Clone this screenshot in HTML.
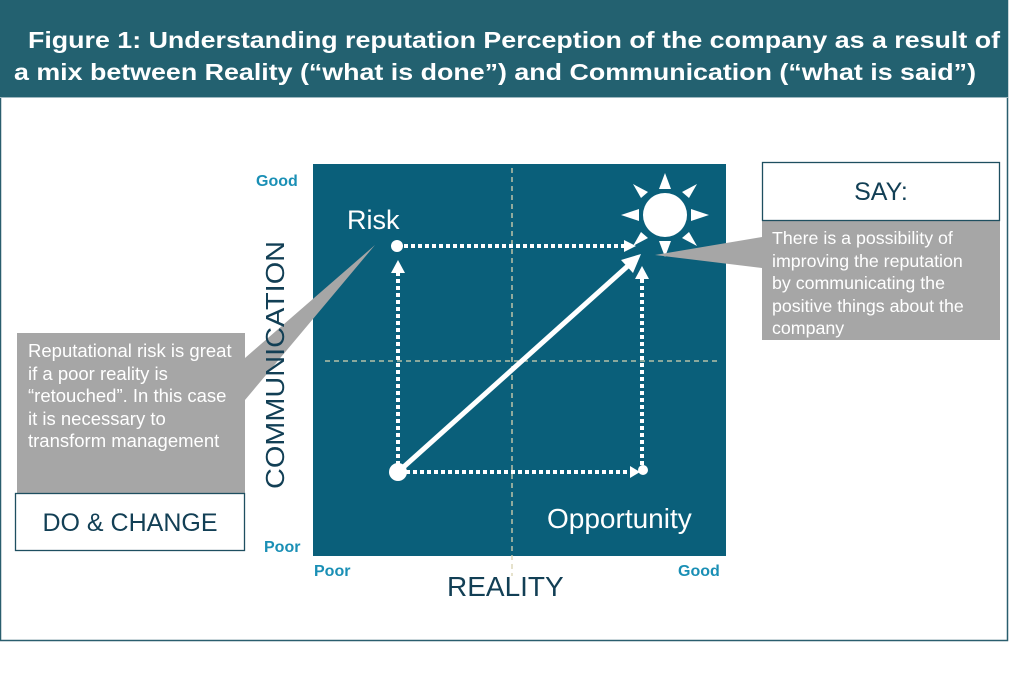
<!DOCTYPE html>
<html><head><meta charset="utf-8"><style>
html,body{margin:0;padding:0;background:#fff;}
svg{display:block;font-family:"Liberation Sans",Arial,sans-serif;}
</style></head><body>
<svg width="1024" height="682" viewBox="0 0 1024 682" xmlns="http://www.w3.org/2000/svg">
<rect x="0.5" y="0.5" width="1007" height="640" fill="#fff" stroke="#2a5e6e" stroke-width="1.5"/>
<rect x="0" y="0" width="1008" height="97" fill="#236170"/>
<line x1="0" y1="97.5" x2="1008" y2="97.5" stroke="#9fb8c0" stroke-width="1"/>
<text x="28" y="48" fill="#fff" font-size="23" font-weight="bold" textLength="972" lengthAdjust="spacingAndGlyphs">Figure 1: Understanding reputation   Perception of the company as a result of</text>
<text x="14" y="80" fill="#fff" font-size="23" font-weight="bold" textLength="962" lengthAdjust="spacingAndGlyphs">a mix between Reality (“what is done”) and Communication (“what is said”)</text>

<rect x="313" y="164" width="413" height="392" fill="#0a5f7a"/>
<line x1="512" y1="168" x2="512" y2="576" stroke="#d8d3b0" stroke-width="1.3" stroke-dasharray="5,4"/>
<line x1="325" y1="361" x2="719" y2="361" stroke="#d8d3b0" stroke-width="1.3" stroke-dasharray="5,4"/>

<g stroke="#fff" stroke-width="4" stroke-dasharray="4,3" fill="none">
<line x1="404" y1="246" x2="624" y2="246"/>
<line x1="398" y1="465" x2="398" y2="272"/>
<line x1="406" y1="472" x2="632" y2="472"/>
<line x1="642" y1="465" x2="642" y2="278"/>
</g>
<g fill="#fff">
<path d="M391,273 L398,260 L405,273z"/>
<path d="M635,279 L642,266 L649,279z"/>
<path d="M624,240 L636,246 L624,252z"/>
<path d="M630,466 L640,472 L630,478z"/>
<circle cx="397" cy="246" r="6"/>
<circle cx="398" cy="472" r="9"/>
<circle cx="643" cy="470" r="5"/>
</g>
<line x1="398" y1="472" x2="630" y2="264" stroke="#fff" stroke-width="5"/>
<path d="M641,254 L621,260 L633,273z" fill="#fff"/>

<g fill="#fff">
<circle cx="665" cy="215" r="22"/>
<path d="M659,189 L665,173 L671,189z"/>
<path d="M659,241 L665,257 L671,241z"/>
<path d="M639,209 L621,215 L639,221z"/>
<path d="M691,209 L709,215 L691,221z"/>
<path d="M641,198 L633,184 L648,192z"/>
<path d="M689,198 L697,184 L682,192z"/>
<path d="M641,232 L633,246 L648,238z"/>
<path d="M689,232 L697,246 L682,238z"/>
</g>

<text x="347" y="229" fill="#fff" font-size="27">Risk</text>
<text x="547" y="528" fill="#fff" font-size="28">Opportunity</text>

<g fill="#1a8fb5" font-size="16" font-weight="bold">
<text x="256" y="186">Good</text>
<text x="264" y="552">Poor</text>
<text x="314" y="576">Poor</text>
<text x="678" y="576">Good</text>
</g>
<text x="447" y="596" fill="#123f55" font-size="28">REALITY</text>

<path d="M245,358 L375,245 L245,400z" fill="#a6a6a6"/>
<rect x="17" y="333" width="228" height="160" fill="#a6a6a6"/>
<text transform="translate(284,489) rotate(-90)" fill="#123f55" font-size="26" textLength="248" lengthAdjust="spacingAndGlyphs">COMMUNICATION</text>
<g fill="#fff" font-size="18.5">
<text x="28" y="357">Reputational risk is great</text>
<text x="28" y="380">if a poor reality is</text>
<text x="28" y="402">“retouched”. In this case</text>
<text x="28" y="425">it is necessary to</text>
<text x="28" y="447">transform management</text>
</g>
<rect x="15.5" y="493.5" width="229" height="57" fill="#fff" stroke="#1e4f60" stroke-width="1.3"/>
<text x="130" y="531" fill="#123f55" font-size="25" text-anchor="middle">DO &amp; CHANGE</text>

<path d="M762,237 L655,255 L762,268z" fill="#a6a6a6"/>
<rect x="762" y="221" width="238" height="119" fill="#a6a6a6"/>
<rect x="762.5" y="162.5" width="237" height="58" fill="#fff" stroke="#1e4f60" stroke-width="1.3"/>
<text x="881" y="200" fill="#123f55" font-size="25" text-anchor="middle">SAY:</text>
<g fill="#fff" font-size="17.8">
<text x="772" y="244">There is a possibility of</text>
<text x="772" y="267">improving the reputation</text>
<text x="772" y="289">by communicating the</text>
<text x="772" y="312">positive things about the</text>
<text x="772" y="334">company</text>
</g>
</svg>
</body></html>
